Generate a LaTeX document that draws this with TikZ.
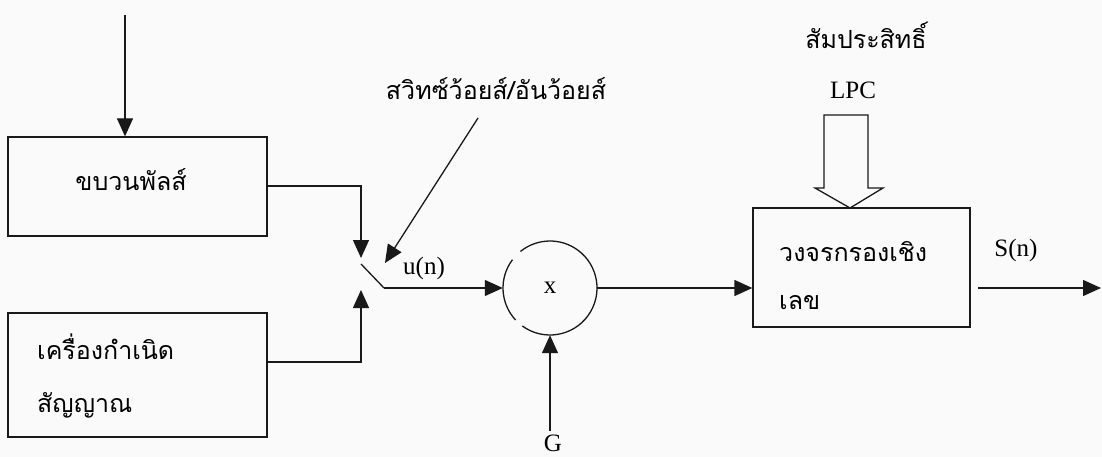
\documentclass[tikz,border=0pt]{standalone}
\usepackage{fontspec}
\setmainfont{Liberation Serif}
\newfontfamily\thaifont[Script=Thai]{Loma}
\usetikzlibrary{arrows.meta}
\begin{document}
\begin{tikzpicture}[x=1pt,y=-1pt,
  ln/.style={line width=1.3pt, draw=black!90},
  arr/.style={ln, -{Triangle[length=18pt,width=16pt]}, },
  blk/.style={ln, rectangle, inner sep=0pt},
  th/.style={font=\thaifont\fontsize{25}{28}\selectfont, inner sep=0pt},
  lat/.style={font=\fontsize{25}{28}\selectfont, inner sep=0pt}]
\fill[white!96!gray] (0,0) rectangle (1102,457);
\useasboundingbox (0,0) rectangle (1102,457);

% boxes
\draw[blk] (8,137) rectangle (267,236);
\node[blk, draw=none, minimum width=259pt, minimum height=99pt] (pulse) at (137.5,186.5) {};
\node[th] (pulsetxt) at (131,180) {ขบวนพัลส์};

\draw[blk] (8,313) rectangle (267,437);
\node[blk, draw=none, minimum width=259pt, minimum height=124pt] (gen) at (137.5,375) {};
\node[th, anchor=west] (gen1) at (37,347) {เครื่องกำเนิด};
\node[th, anchor=west] (gen2) at (37,405) {สัญญาณ};

\draw[blk] (753,208) rectangle (970,327);
\node[blk, draw=none, minimum width=217pt, minimum height=119pt] (filt) at (861.5,267.5) {};
\node[th, anchor=west] (f1) at (779,252) {วงจรกรองเชิง};
\node[th, anchor=west] (f2) at (779,303) {เลข};

% multiplier circle with gaps
\coordinate (mc) at (550,288);
\draw[ln] (mc) ++(126:47) arc[start angle=126, end angle=-129, radius=47];
\draw[ln] (mc) ++(137:47) arc[start angle=137, end angle=217, radius=47];
\node[circle, minimum size=94pt, inner sep=0pt] (mul) at (mc) {};
\node[lat] (x) at (550,288) {x};

% top input
\coordinate (topin) at (125,15);
\draw[arr] (topin) -- (pulse.north -| topin);

% switch
\coordinate (swA) at (361,186);
\coordinate (swTop) at (361,258);
\coordinate (swB) at (361,362);
\coordinate (swBot) at (361,290);
\coordinate (piv1) at (361,264);
\coordinate (piv2) at (384,288);
\draw[arr] (pulse.east |- swA) -- (swA) -- (swTop);
\draw[arr] (gen.east |- swB) -- (swB) -- (swBot);
\draw[ln] (piv1) -- (piv2);
\draw[arr] (piv2) -- (mul.west);
\node[lat] (un) at (424,268) {u(n)};

% switch label + pointer
\node[th] (swlbl) at (496,89) {สวิทซ์ว้อยส์/อันว้อยส์};
\coordinate (swp) at (478,118);
\coordinate (swtip) at (385,263);
\draw[arr] (swp) -- (swtip);

% gain
\node[lat, anchor=base] (G) at (553,451) {G};
\coordinate (gin) at (550,431);
\draw[arr] (gin) -- (mul.south);

% to filter
\draw[arr] (mul.east) -- (filt.west |- mul.east);

% output
\coordinate (oA) at (978,288);
\coordinate (oB) at (1101,288);
\draw[arr] (oA) -- (oB);
\node[lat] (sn) at (1016,250) {S(n)};

% LPC coefficient hollow arrow
\node[th] (coef) at (866,35) {สัมประสิทธิ์};
\node[lat] (lpc) at (853,90) {LPC};
\draw[ln, line join=miter] (824,115) -- (868,115) -- (868,188) -- (883,188) -- (850,208)
  -- (815,188) -- (824,188) -- cycle;
\end{tikzpicture}
\end{document}
